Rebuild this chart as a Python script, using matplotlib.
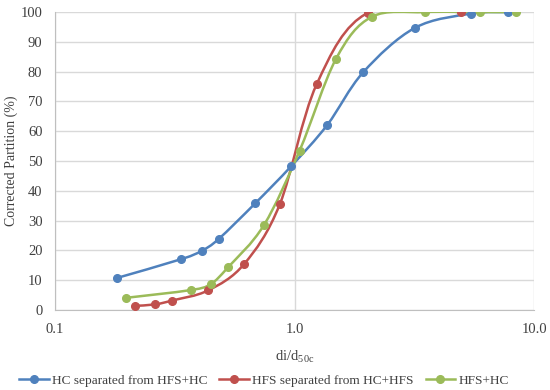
import numpy as np
import matplotlib
matplotlib.use("Agg")
import matplotlib.pyplot as plt
from matplotlib.path import Path
from matplotlib.patches import PathPatch
from matplotlib.lines import Line2D
from matplotlib.ticker import FixedLocator, FuncFormatter

plt.rcParams["font.family"] = ["Liberation Serif", "DejaVu Serif"]

# values
hc_x = [0.182, 0.337, 0.410, 0.483, 0.685, 0.969, 1.369, 1.935, 3.18, 5.48, 7.75]
hc_y = [10.8, 17.1, 19.9, 23.9, 35.8, 48.3, 62.1, 79.8, 94.7, 99.5, 100.0]

hfs_x = [0.215, 0.262, 0.308, 0.436, 0.617, 0.868, 1.236, 2.03, 4.95]
hfs_y = [1.4, 1.9, 3.2, 6.6, 15.5, 35.5, 75.7, 99.8, 100.0]

mix_x = [0.198, 0.368, 0.446, 0.527, 0.745, 1.05, 1.49, 2.10, 3.49, 5.96, 8.43]
mix_y = [4.1, 6.7, 8.7, 14.3, 28.5, 53.5, 84.3, 98.4, 100.0, 100.0, 100.0]

labels = ["HC separated from HFS+HC", "HFS separated from HC+HFS", "HFS+HC"]
colors = ["#4F81BD", "#C0504D", "#9BBB59"]


def smooth_path(xs, ys):
    # Excel-like smoothed line: cubic bezier through the points, built in log-x space
    lx = np.log10(xs)
    y = np.asarray(ys, float)
    n = len(lx)
    verts = [(xs[0], y[0])]
    codes = [Path.MOVETO]
    for i in range(n - 1):
        p0 = (lx[max(i - 1, 0)], y[max(i - 1, 0)])
        p1 = (lx[i], y[i])
        p2 = (lx[i + 1], y[i + 1])
        p3 = (lx[min(i + 2, n - 1)], y[min(i + 2, n - 1)])
        c1 = (p1[0] + (p2[0] - p0[0]) / 6, p1[1] + (p2[1] - p0[1]) / 6)
        c2 = (p2[0] - (p3[0] - p1[0]) / 6, p2[1] - (p3[1] - p1[1]) / 6)
        for c in (c1, c2, p2):
            verts.append((10 ** c[0], c[1]))
        codes += [Path.CURVE4] * 3
    return Path(verts, codes)


fig, ax = plt.subplots(figsize=(5.5, 3.9), dpi=100)
fig.subplots_adjust(left=0.1, right=0.971, top=0.969, bottom=0.205)

series = [(hc_x, hc_y), (hfs_x, hfs_y), (mix_x, mix_y)]
for (xs, ys), c in zip(series, colors):
    ax.add_patch(PathPatch(smooth_path(xs, ys), facecolor="none", edgecolor=c,
                           lw=1.8, zorder=3))
for (xs, ys), c in zip(series, colors):
    ax.plot(xs, ys, ls="none", marker="o", ms=5.5, color=c, zorder=4)

ax.set_xscale("log")
ax.set_xlim(0.1, 10)
ax.set_ylim(0, 100)
ax.xaxis.set_major_locator(FixedLocator([0.1, 1, 10]))
ax.xaxis.set_minor_locator(FixedLocator([]))
ax.xaxis.set_major_formatter(FuncFormatter(lambda v, p: f"{v:.1f}"))
ax.set_yticks(np.arange(0, 101, 10))

ax.grid(True, color="#d9d9d9", lw=1)
ax.set_axisbelow(True)
for s in ["top", "right"]:
    ax.spines[s].set_visible(False)
for s in ["left", "bottom"]:
    ax.spines[s].set_color("#bfbfbf")
ax.tick_params(length=0, labelsize=10.5, colors="#404040", pad=9)

ax.set_xlabel("di/d$_{\\mathregular{50c}}$", fontsize=10.5, color="#404040", labelpad=9)
ax.set_ylabel("Corrected Partition (%)", fontsize=10, color="#404040", labelpad=2)

handles = [Line2D([], [], color=c, lw=1.8, marker="o", ms=5.5) for c in colors]
fig.legend(handles, labels, loc="lower center", ncol=3, frameon=False,
           fontsize=9.6, bbox_to_anchor=(0.48, -0.022), handlelength=2.2,
           columnspacing=0.9, handletextpad=0.25, labelcolor="#404040")

fig.savefig("out.png", dpi=100)
